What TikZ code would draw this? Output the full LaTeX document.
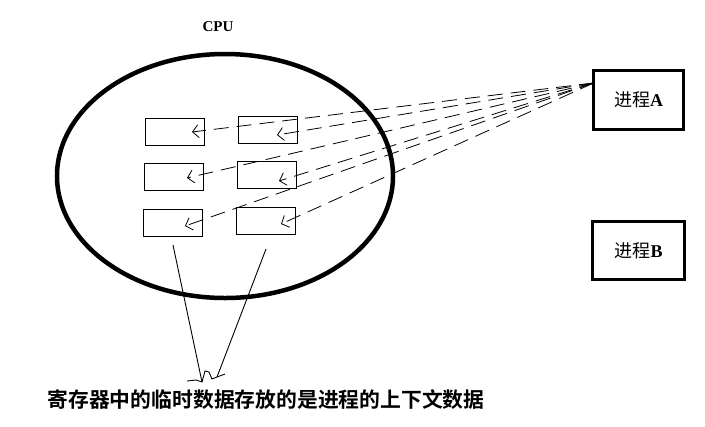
\documentclass[tikz,border=0pt]{standalone}
\usepackage{fontspec}
\setmainfont{Liberation Serif}
\newfontfamily\cjk{Noto Sans CJK SC}[BoldFont=* Bold]
\usetikzlibrary{shapes.geometric,arrows.meta,calc}
\begin{document}
\begin{tikzpicture}[x=1bp,y=-1bp,
  reg/.style={draw,line width=1bp,rectangle,minimum width=59bp,minimum height=27bp,inner sep=0pt},
  proc/.style={draw,line width=3.2bp,rectangle,inner sep=0pt,font=\fontsize{18bp}{20bp}\selectfont},
  link/.style={line width=0.8bp,dash pattern=on 15bp off 8bp,-{Straight Barb[length=6bp,width=13bp]}},
  thin/.style={line width=0.9bp}]
\useasboundingbox (0,0) rectangle (705,426);
\node[ellipse,draw,line width=4.5bp,minimum width=336bp,minimum height=244bp,inner sep=0pt] (cpu) at (225,176) {};
\node[font=\bfseries\fontsize{15bp}{16bp}\selectfont] (cpulbl) at (218,27) {CPU};
\node[reg] (r11) at (174.5,132) {};
\node[reg] (r12) at (267.5,129.5) {};
\node[reg] (r21) at (174,177) {};
\node[reg] (r22) at (266.5,174.5) {};
\node[reg] (r31) at (172.5,222.5) {};
\node[reg] (r32) at (265.5,220.5) {};
\node[proc,minimum width=90bp,minimum height=59bp] (pa) at (638.5,100) {{\cjk 进程}\textbf{A}};
\node[proc,line width=3bp,minimum width=92bp,minimum height=58bp] (pb) at (638.5,250.5) {{\cjk 进程}\textbf{B}};
\coordinate (src) at ($(pa.north west)+(2,14)$);
\coordinate (t11) at (192,132);
\coordinate (t12) at (277,135);
\coordinate (t21) at (187,178);
\coordinate (t22) at (279,181);
\coordinate (t31) at (185,226);
\coordinate (t32) at (281,224);
\foreach \t in {t11,t12,t21,t22,t31,t32}
  \draw[link] (src) -- (\t);
\coordinate (l1a) at (173,245);
\coordinate (l1b) at (202,382);
\coordinate (l2a) at (266,249);
\coordinate (l2b) at (217,377);
\draw[thin] (l1a) -- (l1b);
\draw[thin] (l2a) -- (l2b);
\draw[thin] (187,381) -- (196,380) -- (l1b) -- (205,371) -- (209,372) -- (212,379) -- (l2b) -- (225,374);
\node[font=\cjk\bfseries\fontsize{20.8bp}{24bp}\selectfont] (note) at (266,400) {寄存器中的临时数据存放的是进程的上下文数据};
\end{tikzpicture}
\end{document}
